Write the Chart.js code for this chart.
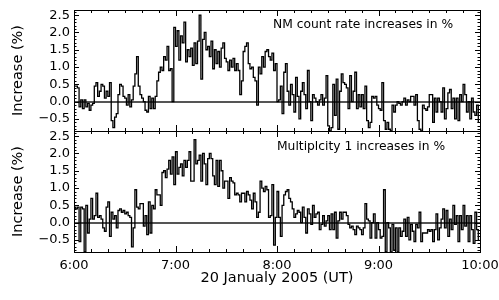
<!DOCTYPE html>
<html>
<head>
<meta charset="utf-8">
<script src="https://cdn.jsdelivr.net/npm/chart.js@4.4.0/dist/chart.umd.min.js"></script>
<style>
  html, body { margin: 0; padding: 0; background: #fff; }
  #wrap { position: relative; width: 499px; height: 300px; overflow: hidden; }
  canvas { position: absolute; left: 0; }
  #top { top: 0; }
  #bot { top: 128px; }
</style>
</head>
<body>
<div id="wrap">
  <canvas id="top" width="499" height="134"></canvas>
  <canvas id="bot" width="499" height="172"></canvas>
</div>
<script>
// minutes after 6:00 UT, tick positions and labels
const TIME_TICKS = [0, 60, 120, 180, 240];
const TIME_LABELS = ['6:00', '7:00', '8:00', '9:00', '10:00'];
const Y_TICKS = [-0.5, 0, 0.5, 1.0, 1.5, 2.0, 2.5];

// 1-min increases (%), 6:00 -> 10:00
const NM_RATE = [
  0.45, 0.45, 0.4, -0.15, 0.05, -0.2, 0.05, -0.15, -0.05, -0.25,
  -0.1, -0.05, 0.45, 0.55, 0.15, 0.3, 0.5, 0.45, 0.1, 0.3,
  0.15, 0.55, -0.55, -0.75, -0.45, -0.35, 0.2, 0.5, 0.45, 0.15,
  0.1, -0.1, 0.2, -0.15, 0.05, 0.45, 0.8, 1.3, 0.45, 0.2,
  0.1, 0.0, -0.25, -0.3, 0.15, -0.2, 0.1, -0.2, 0.15, 0.6,
  0.85, 1.0, 0.9, 1.3, 1.2, 1.6, 0.9, 0.95, 0.0, 2.15,
  1.6, 2.05, 1.2, 1.9, 1.7, 2.3, 1.15, 1.5, 1.3, 1.55,
  1.05, 1.7, 1.1, 1.75, 2.5, 0.65, 1.8, 2.0, 1.5, 1.6,
  1.3, 1.75, 0.95, 1.5, 1.1, 1.45, 1.0, 1.55, 1.7, 1.25,
  1.15, 0.9, 1.2, 1.0, 1.25, 0.9, 1.1, 0.9, 0.2, 0.6,
  1.45, 1.6, 1.7, 1.1, 0.95, 1.0, 0.7, 0.6, -0.1, 1.0,
  0.8, 1.3, 1.0, 1.45, 1.5, 1.3, 1.2, 1.4, 0.9, 1.1,
  0.0, 0.05, 0.45, -0.35, 0.85, 1.1, 0.3, -0.1, 0.5, 0.2,
  -0.3, 0.7, 0.15, -0.5, 0.3, 0.55, 0.2, -0.2, 0.9, 0.0,
  -0.55, 0.2, 0.1, 0.0, -0.1, 0.05, 0.2, -0.1, 0.1, 0.75,
  -0.7, -0.85, -0.75, 0.5, -0.4, 0.65, -0.8, 0.3, 0.8, 0.55,
  0.5, 0.4, -0.2, 0.75, 0.0, 0.3, 0.85, -0.2, 0.2, -0.15,
  0.2, -0.2, 0.45, -0.55, -0.75, -0.6, 0.15, 0.1, 0.15, -0.1,
  -0.2, -0.25, 0.55, -0.55, -0.8, -0.6, -0.8, -0.85, -0.1, -0.3,
  -0.1, 0.0, -0.05, -0.1, 0.0, 0.1, -0.1, 0.05, 0.0, 0.15,
  0.15, -0.1, 0.2, -0.55, -0.8, -0.85, -0.1, -0.2, -0.25, -0.15,
  0.2, 0.2, -0.6, 0.1, -0.3, 0.1, 0.0, -0.3, 0.4, -0.5,
  -0.2, 0.25, 0.35, -0.2, 0.1, -0.5, 0.1, -0.55, 0.2, 0.0,
  0.5, 0.2, -0.3, 0.0, -0.5, 0.1, -0.3, -0.4, -0.1, -0.6
];

const MULT1 = [
  0.45, 0.4, 0.45, -0.55, 0.45, 0.4, -0.85, 0.5, -0.3, 0.1,
  0.7, 0.1, 0.2, 0.85, 0.15, 0.2, 0.1, -0.15, -0.25, 0.45,
  0.6, -0.4, 0.3, 0.1, 0.2, -0.15, 0.35, 0.4, 0.3, 0.35,
  0.25, 0.3, 0.2, 0.15, -0.7, -0.15, 0.95, 0.45, 0.4, 0.55,
  0.55, -0.1, 0.2, -0.35, 0.6, -0.3, 0.5, 0.4, 0.95, 0.8,
  0.8, 0.5, 1.45, 1.5, 1.3, 1.55, 1.8, 1.4, 1.9, 1.1,
  2.05, 1.4, 1.6, 1.7, 1.35, 1.8, 1.6, 1.8, 2.05, 1.2,
  1.2, 2.4, 1.7, 1.8, 1.95, 1.2, 2.0, 1.7, 1.1, 1.85,
  2.0, 1.85, 1.35, 1.1, 1.8, 1.05, 1.8, 1.5, 1.0, 1.2,
  1.2, 0.7, 1.3, 1.2, 1.15, 0.8, 0.85, 0.8, 0.6, 0.85,
  0.85, 0.6, 0.9, 0.8, 0.65, 0.4, 0.85, 0.6, 0.15, 0.3,
  1.2, 1.0, 0.9, 1.05, 0.95, 0.15, 0.2, 1.1, -0.65, 0.15,
  0.9, 0.15, -0.4, 0.5, 0.8, 0.9, 0.95, 0.7, 0.6, 0.4,
  0.15, 0.25, 0.35, 0.3, 0.0, 0.45, 0.15, -0.3, 0.4, 0.25,
  -0.05, 0.5, 0.15, 0.25, 0.3, -0.2, -0.05, 0.2, -0.1, 0.05,
  0.2, -0.2, 0.25, -0.2, 0.3, -0.45, 0.05, 0.3, 0.1, 0.3,
  0.3, 0.2, -0.05, -0.15, -0.1, -0.2, -0.35, -0.1, -0.15, -0.2,
  -0.35, -0.15, 0.55, 0.1, 0.05, -0.45, 0.0, 0.25, -0.45, 0.0,
  -0.2, -0.45, -0.4, 0.95, -0.85, 0.0, -0.15, -0.85, -0.05, -0.8,
  -0.15, -0.85, -0.15, -0.4, -0.25, 0.1, -0.4, 0.15, -0.5, -0.05,
  -0.25, -0.55, -0.05, -0.15, 0.3, -0.55, -0.3, -0.3, -0.3, -0.2,
  -0.25, -0.2, -0.55, -0.2, 0.25, -0.5, -0.15, 0.1, 0.4, -0.15,
  0.35, -0.4, 0.1, -0.2, 0.5, -0.05, 0.2, -0.55, 0.2, -0.2,
  0.5, -0.1, 0.2, -0.55, 0.2, -0.2, -0.6, 0.3, -0.2, -0.5
];

const FONT = 'DejaVu Sans';

// IDL style: closed frame, inward ticks on all four sides, panel caption
const frameTicks = {
  id: 'frameTicks',
  afterDatasetsDraw(chart, args, opts) {
    const {ctx, chartArea: a, scales: {x, y}} = chart;
    ctx.save();
    ctx.strokeStyle = '#000';
    ctx.lineWidth = 1;
    ctx.beginPath();
    for (let k = Math.ceil(y.min * 10); k <= Math.floor(y.max * 10); k++) {
      const py = Math.round(y.getPixelForValue(k / 10)) + 0.5;
      const len = k % 5 === 0 ? 5 : 2.5;
      ctx.moveTo(a.left, py); ctx.lineTo(a.left + len, py);
      ctx.moveTo(a.right, py); ctx.lineTo(a.right - len, py);
    }
    for (let m = x.min; m <= x.max; m += 10) {
      const px = Math.round(x.getPixelForValue(m)) + 0.5;
      const len = m % 60 === 0 ? 6 : 3;
      ctx.moveTo(px, a.top); ctx.lineTo(px, a.top + len);
      ctx.moveTo(px, a.bottom); ctx.lineTo(px, a.bottom - len);
    }
    ctx.stroke();
    ctx.strokeRect(Math.round(a.left) + 0.5, Math.round(a.top) + 0.5,
      Math.round(a.right - a.left), Math.round(a.bottom - a.top));
    ctx.fillStyle = '#000';
    ctx.font = '12.3px "' + FONT + '"';
    ctx.textBaseline = 'middle';
    ctx.fillText(opts.text, opts.x, opts.y);
    ctx.restore();
  }
};

function yScale(){
  return {
    min: -0.85, max: 2.65,
    afterBuildTicks: s => { s.ticks = Y_TICKS.map(v => ({value: v})); },
    afterFit: s => { s.width = 74; s.paddingTop = 0; s.paddingBottom = 0; },
    ticks: {
      color: '#000', padding: 4, font: {family: FONT, size: 13},
      callback: v => (v < 0 ? '\u2212' : '') + Math.abs(v).toFixed(1)
    },
    grid: {
      drawTicks: false, lineWidth: 2,
      color: c => (c.tick && c.tick.value === 0) ? '#555' : 'rgba(0,0,0,0)'
    },
    border: {display: false},
    title: {
      display: true, text: 'Increase (%)', color: '#000',
      font: {family: FONT, size: 14.5}, padding: {top: 10, bottom: 0}
    }
  };
}

function series(vals){
  return [{
    data: vals.map((v, i) => ({x: i + 0.5, y: v})),
    stepped: 'middle', borderColor: '#000', borderWidth: 1.3,
    pointRadius: 0, fill: false
  }];
}

const common = {
  responsive: false, animation: false, devicePixelRatio: 1,
  plugins: {legend: {display: false}, tooltip: {enabled: false}}
};

new Chart(document.getElementById('top'), {
  type: 'line',
  data: {datasets: series(NM_RATE)},
  plugins: [frameTicks],
  options: Object.assign({}, common, {
    layout: {padding: {top: 10, right: 19, bottom: 3, left: 0}},
    plugins: Object.assign({}, common.plugins, {
      frameTicks: {text: 'NM count rate increases in %', x: 273, y: 25}
    }),
    scales: {
      x: {type: 'linear', min: 0, max: 240, display: false},
      y: yScale()
    }
  })
});

new Chart(document.getElementById('bot'), {
  type: 'line',
  data: {datasets: series(MULT1)},
  plugins: [frameTicks],
  options: Object.assign({}, common, {
    layout: {padding: {top: 3, right: 19, bottom: 0, left: 0}},
    plugins: Object.assign({}, common.plugins, {
      frameTicks: {text: 'Multiplcity 1 increases in %', x: 277, y: 19}
    }),
    scales: {
      x: {
        type: 'linear', min: 0, max: 240,
        afterBuildTicks: s => { s.ticks = TIME_TICKS.map(v => ({value: v})); },
        afterFit: s => { s.height = 48; s.paddingLeft = 0; s.paddingRight = 0; },
        grid: {display: false, drawTicks: false},
        border: {display: false},
        ticks: {
          color: '#000', padding: 6, maxRotation: 0, autoSkip: false,
          font: {family: FONT, size: 13},
          callback: v => TIME_LABELS[TIME_TICKS.indexOf(v)]
        },
        title: {
          display: true, text: '20 Janualy 2005 (UT)', color: '#000',
          font: {family: FONT, size: 14.5}, padding: {top: 0, bottom: 13.5}
        }
      },
      y: yScale()
    }
  })
});
</script>
</body>
</html>
